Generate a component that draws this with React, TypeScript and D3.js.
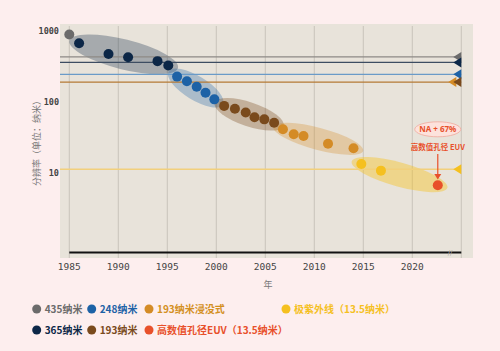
import React from "react";
import * as d3 from "d3";

// ---- data ----
const seriesNames = ["435纳米", "365纳米", "248纳米", "193纳米", "193纳米浸没式", "极紫外线（13.5纳米）", "高数值孔径EUV（13.5纳米）"];
const years435 = [1985];
const values435 = [900];
const years365 = [1986, 1989, 1991, 1994, 1995.1];
const values365 = [680, 480, 430, 380, 330];
const years248 = [1996, 1997, 1998, 1998.9, 1999.8];
const values248 = [230, 198, 166, 136, 110];
const years193 = [2000.8, 2001.9, 2003, 2003.9, 2004.9, 2005.9];
const values193 = [89, 81, 72, 61.5, 57.5, 51.5];
const years193i = [2006.8, 2007.9, 2008.9, 2011.4, 2014];
const values193i = [41.7, 35.4, 33.5, 26.1, 22.5];
const yearsEUV = [2014.8, 2016.8];
const valuesEUV = [13.5, 10.9];
const yearsHNA = [2022.6];
const valuesHNA = [6.8];
// wavelength reference lines (value as drawn)
const lineLevels = [435, 365, 248, 193, 11.4];
const yTicks = [1000, 100, 10];
const xTicks = [1985, 1990, 1995, 2000, 2005, 2010, 2015, 2020];
const xGrid = [1985, 1990, 1995, 2000, 2005, 2010, 2015, 2020, 2025];

// ---- styles ----
const colors = ["#6b6b6b", "#0c2747", "#1d62a6", "#7a4a1c", "#d48b26", "#f5c01f", "#e8502a"];
const lineColors = ["#8e8a86", "#3d4d62", "#6a9bc8", "#b57a35", "#f2d07c"];
const legendText = ["#6b6b6b", "#0c2747", "#1d62a6", "#7a4a1c", "#d4901f", "#f5c01f", "#e8502a"];

export default function App() {
  const W = 500, H = 351;
  const plot = { x0: 60, x1: 473, y0: 24, y1: 258 };
  const x = d3.scaleLinear().domain([1985, 2025]).range([69.3, 461.3]);
  const y = d3.scaleLog().domain([1000, 10]).range([31.3, 173.3]);

  const series = [
    { years: years435, values: values435 },
    { years: years365, values: values365 },
    { years: years248, values: values248 },
    { years: years193, values: values193 },
    { years: years193i, values: values193i },
    { years: yearsEUV, values: valuesEUV },
    { years: yearsHNA, values: valuesHNA },
  ];

  // clusters: which series each halo wraps, halo colour index, half thickness
  const clusters = [
    { members: [1], color: 1, ry: 15, op: 0.3 },
    { members: [2], color: 2, ry: 12, op: 0.3 },
    { members: [3], color: 3, ry: 12, op: 0.33 },
    { members: [4], color: 4, ry: 11, op: 0.3 },
    { members: [5, 6], color: 5, ry: 12, op: 0.42 },
  ];

  const ellipses = clusters.map((c) => {
    const pts: [number, number][] = [];
    c.members.forEach((m) => series[m].years.forEach((yr, i) => pts.push([x(yr), y(series[m].values[i])])));
    const a = pts[0], b = pts[pts.length - 1];
    const cx = (a[0] + b[0]) / 2, cy = (a[1] + b[1]) / 2;
    const dist = Math.hypot(b[0] - a[0], b[1] - a[1]);
    const ang = (Math.atan2(b[1] - a[1], b[0] - a[0]) * 180) / Math.PI;
    return { cx, cy, rx: dist / 2 + 10, ry: c.ry, ang, fill: colors[c.color], op: c.op };
  });

  // triangle markers on right edge: [line index, colour index, offset]
  const markers = [
    { line: 0, color: 0, dx: 0 },
    { line: 1, color: 1, dx: 0 },
    { line: 2, color: 2, dx: 0 },
    { line: 3, color: 4, dx: -5 },
    { line: 3, color: 3, dx: 0 },
    { line: 4, color: 5, dx: 0 },
  ];
  const triX = x(2025);

  const hna = { x: x(yearsHNA[0]), y: y(valuesHNA[0]) };

  const legendRows = [
    [0, 2, 4, 5],
    [1, 3, 6],
  ];
  const legendX = [36.7, 91.7, 149, 286];
  const legendY = [309, 330];

  return (
    <div style={{ position: "fixed", left: 0, top: 0 }}>
      <svg width={W} height={H} style={{ display: "block" }}>
        <rect x={0} y={0} width={W} height={H} fill="#fdeeee" />
        <rect x={plot.x0} y={plot.y0} width={plot.x1 - plot.x0} height={plot.y1 - plot.y0} fill="#e8e3da" />
        {xGrid.map((t) => (
          <line key={t} x1={x(t)} x2={x(t)} y1={plot.y0 + 2} y2={plot.y1} stroke="#c9c4bb" strokeWidth={1} />
        ))}
        {ellipses.map((e, i) => (
          <ellipse
            key={i}
            cx={e.cx}
            cy={e.cy}
            rx={e.rx}
            ry={e.ry}
            fill={e.fill}
            opacity={e.op}
            transform={`rotate(${e.ang} ${e.cx} ${e.cy})`}
          />
        ))}
        {lineLevels.map((v, i) => (
          <line key={i} x1={plot.x0} x2={triX} y1={y(v)} y2={y(v)} stroke={lineColors[i]} strokeWidth={i === 4 ? 1.5 : 1.3} />
        ))}
        {markers.map((m, i) => {
          const yy = y(lineLevels[m.line]);
          const tx = triX + m.dx;
          return (
            <path key={i} d={`M${tx - 8},${yy} L${tx},${yy - 5} L${tx},${yy + 5} Z`} fill={colors[m.color]} />
          );
        })}
        {series.map((s, si) =>
          s.years.map((yr, i) => (
            <circle key={`${si}-${i}`} cx={x(yr)} cy={y(s.values[i])} r={5} fill={colors[si]} />
          ))
        )}
        <line x1={x(1985)} x2={x(2025)} y1={252.5} y2={252.5} stroke="#111" strokeWidth={2} />
        <text x={450} y={255} fontSize={7} fill="#b0aba3" textAnchor="middle" fontFamily="DejaVu Sans">//</text>

        {/* annotation */}
        <ellipse cx={hna.x} cy={129.3} rx={23} ry={7.5} fill="#fde2dc" stroke="#f0a89c" strokeWidth={0.8} />
        <text x={hna.x} y={132.3} fontSize={8} fontWeight="bold" fill="#e8502a" textAnchor="middle" fontFamily="Noto Sans, sans-serif">NA + 67%</text>
        <text x={hna.x} y={149.5} fontSize={7.5} fontWeight="bold" fill="#e8502a" textAnchor="middle" fontFamily="'Noto Sans CJK SC', sans-serif">高数值孔径 EUV</text>
        <line x1={hna.x} x2={hna.x} y1={154} y2={175} stroke="#e8502a" strokeWidth={1.2} />
        <path d={`M${hna.x - 3.5},${174} L${hna.x + 3.5},${174} L${hna.x},${179.5} Z`} fill="#e8502a" />

        {/* axes labels */}
        {yTicks.map((t) => (
          <text key={t} x={59} y={y(t) + 3} fontSize={8.5} fontWeight="bold" fill="#444" textAnchor="end" fontFamily="'DejaVu Sans Mono', monospace">{t}</text>
        ))}
        {xTicks.map((t) => (
          <text key={t} x={x(t)} y={270} fontSize={9.5} fill="#444" textAnchor="middle" fontFamily="'DejaVu Sans Mono', monospace">{t}</text>
        ))}
        <text x={268} y={287.5} fontSize={9} fill="#777" textAnchor="middle" fontFamily="'Noto Sans CJK SC', sans-serif">年</text>
        <text transform="translate(40,141) rotate(-90)" fontSize={9} fill="#777" textAnchor="middle" fontFamily="'Noto Sans CJK SC', sans-serif">分辨率（单位：纳米）</text>

        {/* legend */}
        {legendRows.map((row, ri) =>
          row.map((si, ci) => (
            <g key={si}>
              <circle cx={legendX[ci]} cy={legendY[ri]} r={4.5} fill={colors[si]} />
              <text x={legendX[ci] + 8} y={legendY[ri] + 3.6} fontSize={10} fontWeight="bold" fill={legendText[si]} fontFamily="'Noto Sans CJK SC', sans-serif">{seriesNames[si]}</text>
            </g>
          ))
        )}
      </svg>
    </div>
  );
}
